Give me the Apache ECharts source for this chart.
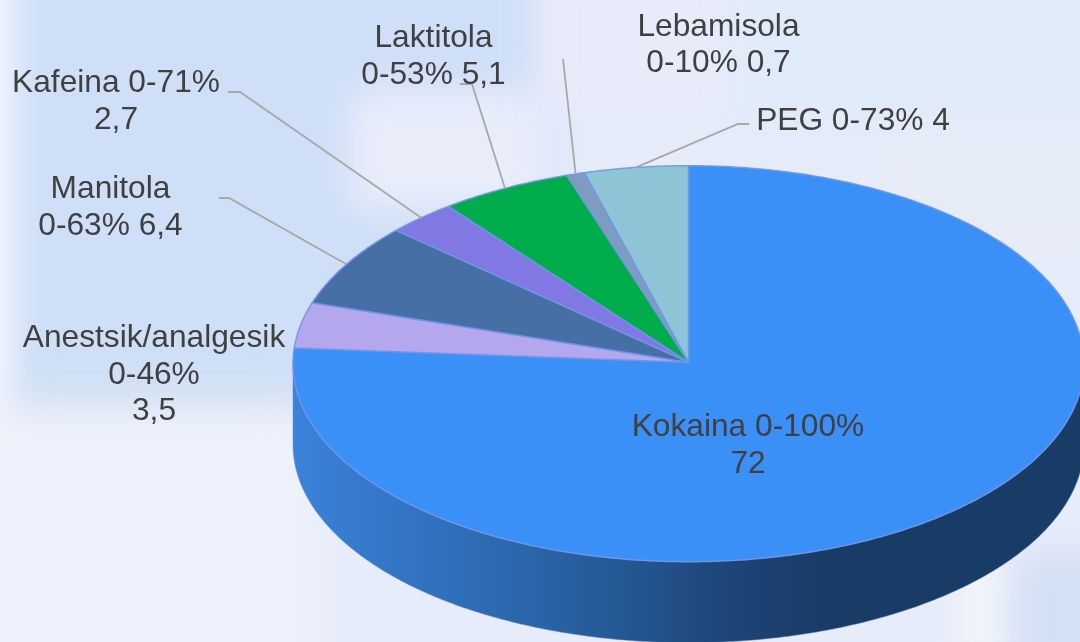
<!DOCTYPE html>
<html lang="pl">
<head>
<meta charset="UTF-8">
<title>Kokaina</title>
<style>
  * { margin: 0; padding: 0; }
  html, body { width: 1080px; height: 642px; overflow: hidden; background: #e6ecfa; }
  #bg { position: absolute; left: 0; top: 0; width: 1080px; height: 642px; overflow: hidden; }
  #bg div { position: absolute; filter: blur(18px); }
  #main { position: absolute; left: 0; top: 0; width: 1080px; height: 642px; }
</style>
<script src="https://cdn.jsdelivr.net/npm/echarts@6/dist/echarts.min.js"></script>
</head>
<body>
<div id="bg"></div>
<div id="main"></div>
<script>
// values, clockwise from 12 o'clock
var names = ['Kokaina', 'Anestsik/analgesik', 'Manitola', 'Kafeina', 'Laktitola', 'Lebamisola', 'PEG'];
var ranges = ['0-100%', '0-46%', '0-63%', '0-71%', '0-53%', '0-10%', '0-73%'];
var values = [72, 3.5, 6.4, 2.7, 5.1, 0.7, 4];
var colors = ['#3b90f7', '#b5a7ee', '#466fa5', '#8278e3', '#00ac4b', '#7e9cc0', '#8ec4d6'];
// what goes between name / range / value in each label
var breaks = [[' ', '\n'], ['\n', '\n'], ['\n', ' '], [' ', '\n'], ['\n', ' '], ['\n', ' '], [' ', ' ']];

// layout
var cx = 688.5, cy = 363.7, rx = 395.5, ry = 198, depth = 81;
var labelCenter = [[748, 446], [154, 375], [110.5, 208], [116, 102], [433.5, 57], [718.5, 45.5], [853, 121]];
var leaderStart = [null, null, [[219, 198], [229, 198]], [[228, 92], [240, 92]], [[460, 84], [472, 84]], [[563, 59]], [[749, 124], [738, 124]]];

// background patches, x y w h colour
var patches = [
  [10, -40, 540, 440, '#cfdff8'],
  [-40, -40, 44, 720, '#f6f8fd'],
  [350, 90, 200, 120, '#e9edfa'],
  [540, -40, 190, 150, '#e8ebfa'],
  [730, -40, 400, 180, '#e0ebf9'],
  [880, 130, 240, 130, '#e6ecf7'],
  [20, 392, 270, 14, '#d3dfeb'],
  [-40, 418, 360, 270, '#eef1fb'],
  [965, 545, 35, 130, '#f5f7f8'],
  [1015, 555, 100, 120, '#d3dff5']
];
patches.forEach(function (p) {
  var d = document.createElement('div');
  d.style.cssText = 'left:' + p[0] + 'px;top:' + p[1] + 'px;width:' + p[2] + 'px;height:' + p[3] + 'px;background:' + p[4];
  document.getElementById('bg').appendChild(d);
});

var total = values.reduce(function (a, b) { return a + b; }, 0);
var startAngle = [];
values.reduce(function (sum, v, i) { startAngle[i] = sum / total * 360; return sum + v; }, 0);

function pt(deg, dy) {
  var a = deg * Math.PI / 180;
  return [cx + rx * Math.sin(a), cy - ry * Math.cos(a) + (dy || 0)];
}
function arc(a0, a1, dy) {
  var pts = [];
  var n = Math.max(2, Math.ceil((a1 - a0) / 0.5));
  for (var i = 0; i <= n; i++) pts.push(pt(a0 + (a1 - a0) * i / n, dy));
  return pts;
}
function sweep(i) { return values[i] / total * 360; }
function labelText(i) {
  return names[i] + breaks[i][0] + ranges[i] + breaks[i][1] + String(values[i]).replace('.', ',');
}

var wallColor = new echarts.graphic.LinearGradient(293, 0, 1084, 0, [
  { offset: 0, color: '#3a82dc' },
  { offset: 0.31, color: '#2a64a8' },
  { offset: 0.58, color: '#1c4273' },
  { offset: 0.68, color: '#193c66' },
  { offset: 1, color: '#193c66' }
], true);

var rows = values.map(function (v, i) { return [i, v]; });

var option = {
  animation: false,
  series: [
    {
      // side wall, only the part of a slice that faces the viewer
      type: 'custom', coordinateSystem: 'none', silent: true, z: 1, data: rows,
      renderItem: function (params, api) {
        var i = api.value(0);
        var a0 = Math.max(startAngle[i], 90), a1 = Math.min(startAngle[i] + sweep(i), 270);
        if (a1 <= a0) return { type: 'group', children: [] };
        return {
          type: 'polygon',
          shape: { points: arc(a0, a1, 0).concat(arc(a0, a1, depth).reverse()) },
          style: { fill: wallColor, stroke: 'rgba(120,140,180,0.5)', lineWidth: 1 }
        };
      }
    },
    {
      // top face
      type: 'custom', coordinateSystem: 'none', silent: true, z: 2, data: rows,
      renderItem: function (params, api) {
        var i = api.value(0);
        return {
          type: 'polygon',
          shape: { points: [[cx, cy - 1.5]].concat(arc(startAngle[i], startAngle[i] + sweep(i), 0)) },
          style: { fill: colors[i], stroke: 'rgba(112,150,232,0.9)', lineWidth: 1.5, lineJoin: 'round' }
        };
      }
    },
    {
      // leader lines and labels
      type: 'custom', coordinateSystem: 'none', silent: true, z: 3, data: rows,
      renderItem: function (params, api) {
        var i = api.value(0);
        var children = [{
          type: 'text',
          style: {
            x: labelCenter[i][0], y: labelCenter[i][1],
            text: labelText(i), align: 'center', verticalAlign: 'middle',
            font: '31.7px "Liberation Sans", Arial, sans-serif', lineHeight: 36.5, fill: '#404040'
          }
        }];
        if (leaderStart[i]) {
          children.unshift({
            type: 'polyline',
            shape: { points: leaderStart[i].concat([pt(startAngle[i] + sweep(i) / 2)]) },
            style: { fill: 'none', stroke: '#a8a8a4', lineWidth: 1.8 }
          });
        }
        return { type: 'group', children: children };
      }
    }
  ]
};

var myChart = echarts.init(document.getElementById('main'));
myChart.setOption(option);
</script>
</body>
</html>
